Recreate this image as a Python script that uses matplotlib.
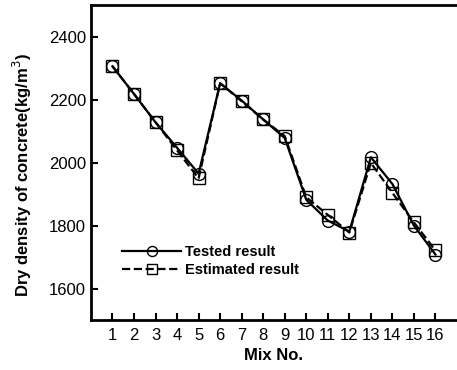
import matplotlib.pyplot as plt

plt.rcParams['font.family'] = ['Liberation Sans', 'DejaVu Sans']

mix = list(range(1, 17))
tested = [2306, 2218, 2128, 2047, 1965, 2252, 2197, 2137, 2078, 1882, 1816, 1781, 2017, 1932, 1800, 1708]
estimated = [2306, 2218, 2128, 2039, 1950, 2252, 2195, 2137, 2084, 1890, 1834, 1778, 1999, 1904, 1810, 1721]

fig = plt.figure(figsize=(4.57, 3.7), dpi=100)
ax = fig.add_axes([0.199, 0.135, 0.801, 0.851])

ax.plot(mix, tested, '-', color='black', lw=1.6, marker='o', ms=8.5,
        mfc='none', mec='black', mew=1.0, label='Tested result')
ax.plot(mix, estimated, '--', color='black', lw=1.6, marker='s', ms=8.5,
        mfc='none', mec='black', mew=1.0, label='Estimated result')

ax.set_xlim(0, 17)
ax.set_ylim(1500, 2500)
ax.set_xticks(mix)
ax.set_yticks([1600, 1800, 2000, 2200, 2400])
ax.tick_params(direction='in', length=5, width=1.5, labelsize=12)
ax.tick_params(axis='x', pad=6)

for s in ['left', 'bottom', 'top']:
    ax.spines[s].set_linewidth(2)
ax.spines['right'].set_visible(False)

ax.set_xlabel('Mix No.', fontsize=12, fontweight='bold', labelpad=3)
ax.set_ylabel('Dry density of concrete(kg/m$^3$)', fontsize=12, fontweight='bold')
ax.yaxis.set_label_coords(-0.155, 0.46)

leg = ax.legend(loc='lower left', bbox_to_anchor=(0.05, 0.095), frameon=False,
                fontsize=10.5, handlelength=4.0, labelspacing=0.3, handletextpad=0.3,
                markerscale=0.85)
for t in leg.get_texts():
    t.set_fontweight('bold')

fig.savefig('out.png', dpi=100)
